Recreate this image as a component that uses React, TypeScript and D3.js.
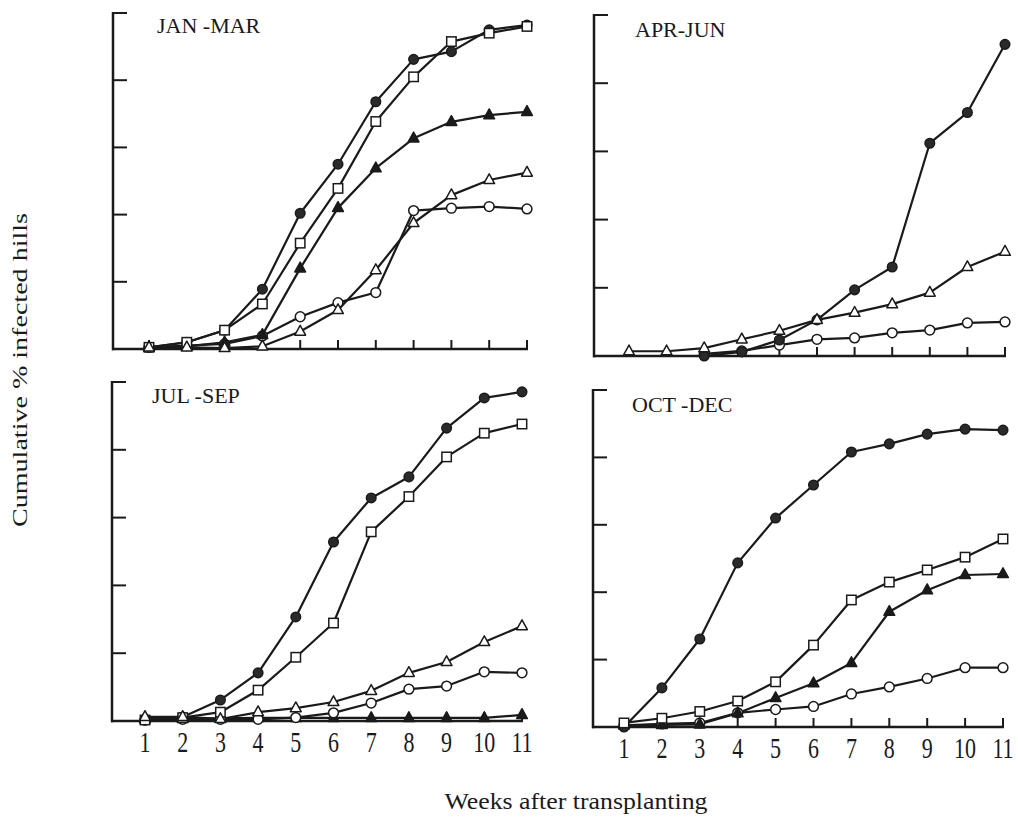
import React from "react";
import * as d3 from "d3";

const WEEKS = [1, 2, 3, 4, 5, 6, 7, 8, 9, 10, 11];
const WEEK_LABELS = ["1", "2", "3", "4", "5", "6", "7", "8", "9", "10", "11"];
const Y_TICKS = [0, 20, 40, 60, 80, 100];
const PANEL_TITLES = ["JAN -MAR", "APR-JUN", "JUL -SEP", "OCT -DEC"];
const X_TITLE = "Weeks after transplanting";
const Y_TITLE = "Cumulative % infected hills";

type V = number | null;

// JAN-MAR
const JM_FILLED_CIRCLE: V[] = [0.5, 2, 5.6, 17.8, 40.4, 55, 73.6, 86.2, 88.5, 95, 96.4];
const JM_OPEN_SQUARE: V[] = [0.5, 2, 5.6, 13.4, 31.5, 47.8, 67.7, 81, 91.5, 94, 96];
const JM_FILLED_TRIANGLE: V[] = [0.5, 0.8, 2, 4.2, 24, 42, 53.8, 62.7, 67.6, 69.6, 70.6];
const JM_OPEN_TRIANGLE: V[] = [0.5, 0.5, 0.3, 0.8, 5.2, 11.6, 23.5, 37.5, 45.8, 50.3, 52.5];
const JM_OPEN_CIRCLE: V[] = [0.5, 1, 1.5, 3.9, 9.6, 13.8, 16.8, 41.2, 41.9, 42.4, 41.7];

// APR-JUN
const AJ_FILLED_CIRCLE: V[] = [null, null, 0, 1.2, 4.7, 10.6, 19.4, 26.1, 62.4, 71.4, 91.4];
const AJ_OPEN_TRIANGLE: V[] = [1.4, 1.4, 2.3, 4.9, 7.4, 10.6, 12.7, 15.2, 18.6, 26.1, 30.6];
const AJ_OPEN_CIRCLE: V[] = [null, null, 0.6, 1.5, 3.2, 4.9, 5.3, 6.8, 7.6, 9.7, 10];

// JUL-SEP
const JS_FILLED_CIRCLE: V[] = [0.3, 1.2, 6.2, 14.2, 30.7, 52.8, 65.8, 72, 86.4, 95.3, 97.1];
const JS_OPEN_SQUARE: V[] = [0.3, 1, 2.6, 9.1, 18.8, 28.9, 55.8, 66.2, 77.9, 84.9, 87.6];
const JS_OPEN_TRIANGLE: V[] = [1.2, 1.2, 0.6, 2.6, 3.8, 5.6, 8.9, 14.2, 17.4, 23.3, 28];
const JS_OPEN_CIRCLE: V[] = [0.3, 0.5, 0.5, 0.5, 1, 2.4, 5.3, 9.4, 10.3, 14.5, 14.2];
const JS_FILLED_TRIANGLE: V[] = [0.5, 0.6, 0.8, 0.9, 0.9, 0.9, 0.9, 0.9, 0.9, 0.9, 1.8];

// OCT-DEC
const OD_FILLED_CIRCLE: V[] = [0, 11.6, 26.1, 48.7, 62, 71.8, 81.6, 84, 86.9, 88.4, 88.1];
const OD_OPEN_SQUARE: V[] = [1.2, 2.6, 4.6, 7.7, 13.4, 24.3, 37.7, 43, 46.6, 50.4, 55.8];
const OD_FILLED_TRIANGLE: V[] = [0.5, 0.6, 0.8, 4.1, 8.6, 13, 19, 34.2, 40.6, 45.1, 45.4];
const OD_OPEN_CIRCLE: V[] = [0.5, 0.9, 1.2, 4.2, 5.2, 6.1, 9.8, 11.9, 14.4, 17.6, 17.6];

type Marker = "fc" | "oc" | "os" | "ft" | "ot";
interface Series { marker: Marker; values: V[]; }

const PANEL_SERIES: Series[][] = [
  [
    { marker: "oc", values: JM_OPEN_CIRCLE },
    { marker: "ft", values: JM_FILLED_TRIANGLE },
    { marker: "fc", values: JM_FILLED_CIRCLE },
    { marker: "os", values: JM_OPEN_SQUARE },
    { marker: "ot", values: JM_OPEN_TRIANGLE },
  ],
  [
    { marker: "oc", values: AJ_OPEN_CIRCLE },
    { marker: "fc", values: AJ_FILLED_CIRCLE },
    { marker: "ot", values: AJ_OPEN_TRIANGLE },
  ],
  [
    { marker: "ft", values: JS_FILLED_TRIANGLE },
    { marker: "oc", values: JS_OPEN_CIRCLE },
    { marker: "fc", values: JS_FILLED_CIRCLE },
    { marker: "os", values: JS_OPEN_SQUARE },
    { marker: "ot", values: JS_OPEN_TRIANGLE },
  ],
  [
    { marker: "oc", values: OD_OPEN_CIRCLE },
    { marker: "ft", values: OD_FILLED_TRIANGLE },
    { marker: "fc", values: OD_FILLED_CIRCLE },
    { marker: "os", values: OD_OPEN_SQUARE },
  ],
];

// layout (pixels)
const LAYOUT = [
  { axisX: 113, top: 13, bottom: 349, x1: 149, x11: 527, titleX: 157, titleY: 33, labels: false },
  { axisX: 594, top: 15, bottom: 356, x1: 629, x11: 1005, titleX: 635, titleY: 37, labels: false },
  { axisX: 112, top: 382, bottom: 721, x1: 145, x11: 522, titleX: 152, titleY: 403, labels: true },
  { axisX: 593, top: 390, bottom: 727, x1: 624, x11: 1003, titleX: 632, titleY: 412, labels: true },
];

const FONT = "'Liberation Serif', 'Times New Roman', serif";
const INK = "#1a1a1a";

function MarkerShape({ m, x, y }: { m: Marker; x: number; y: number }) {
  const sw = 1.5;
  if (m === "fc") return <circle cx={x} cy={y} r={4.8} fill="#2a2a2a" stroke={INK} strokeWidth={sw} />;
  if (m === "oc") return <circle cx={x} cy={y} r={4.9} fill="#fff" stroke={INK} strokeWidth={sw} />;
  if (m === "os") return <rect x={x - 4.7} y={y - 4.7} width={9.4} height={9.4} fill="#fff" stroke={INK} strokeWidth={sw} />;
  const p = `M${x},${y - 6.2}L${x + 5.4},${y + 3.6}L${x - 5.4},${y + 3.6}Z`;
  if (m === "ft") return <path d={p} fill={INK} stroke={INK} strokeWidth={sw} strokeLinejoin="round" />;
  return <path d={p} fill="#fff" stroke={INK} strokeWidth={sw} strokeLinejoin="round" />;
}

function Panel({ idx }: { idx: number }) {
  const L = LAYOUT[idx];
  const x = d3.scaleLinear().domain([1, 11]).range([L.x1, L.x11]);
  const y = d3.scaleLinear().domain([0, 100]).range([L.bottom, L.top]);
  const line = d3
    .line<V>()
    .defined((d) => d !== null)
    .x((_, i) => x(WEEKS[i]))
    .y((d) => y(d as number));
  const series = PANEL_SERIES[idx];
  return (
    <g>
      <line x1={L.axisX} x2={L.axisX} y1={y(100) - 1} y2={y(0) + 1.2} stroke={INK} strokeWidth={2.5} />
      {Y_TICKS.filter((t) => t > 0).map((t) => (
        <line key={t} x1={L.axisX} x2={L.axisX + 14} y1={y(t)} y2={y(t)} stroke={INK} strokeWidth={2} />
      ))}
      <line x1={L.axisX - 1} x2={x(11) + 1} y1={y(0)} y2={y(0)} stroke={INK} strokeWidth={2.5} />
      {WEEKS.map((w) => (
        <line key={w} x1={x(w)} x2={x(w)} y1={y(0)} y2={y(0) - 9} stroke={INK} strokeWidth={2} />
      ))}
      {L.labels &&
        WEEKS.map((w, i) => (
          <text
            key={w}
            transform={`translate(${x(w)},${y(0) + 31}) scale(1,1.3)`}
            textAnchor="middle"
            fontFamily={FONT}
            fontSize={22}
            fill={INK}
          >
            {WEEK_LABELS[i]}
          </text>
        ))}
      <text x={L.titleX} y={L.titleY} fontFamily={FONT} fontSize={22} fill={INK}>
        {PANEL_TITLES[idx]}
      </text>
      {series.map((s, si) => (
        <path key={si} d={line(s.values) || ""} fill="none" stroke={INK} strokeWidth={2.2} strokeLinejoin="round" />
      ))}
      {series.map((s, si) => (
        <g key={"m" + si}>
          {s.values.map((v, i) =>
            v === null ? null : <MarkerShape key={i} m={s.marker} x={x(WEEKS[i])} y={y(v)} />
          )}
        </g>
      ))}
    </g>
  );
}

export default function App() {
  return (
    <svg
      width={1018}
      height={824}
      style={{ position: "absolute", left: 0, top: 0, background: "#fff" }}
    >
      <rect width={1018} height={824} fill="#fff" />
      {[0, 1, 2, 3].map((i) => (
        <Panel key={i} idx={i} />
      ))}
      <text
        x={576}
        y={809}
        textAnchor="middle"
        fontFamily={FONT}
        fontSize={23}
        textLength={263}
        lengthAdjust="spacingAndGlyphs"
        fill={INK}
      >
        {X_TITLE}
      </text>
      <text
        transform="translate(27,370) rotate(-90)"
        textAnchor="middle"
        fontFamily={FONT}
        fontSize={22}
        textLength={314}
        lengthAdjust="spacingAndGlyphs"
        fill={INK}
      >
        {Y_TITLE}
      </text>
    </svg>
  );
}
